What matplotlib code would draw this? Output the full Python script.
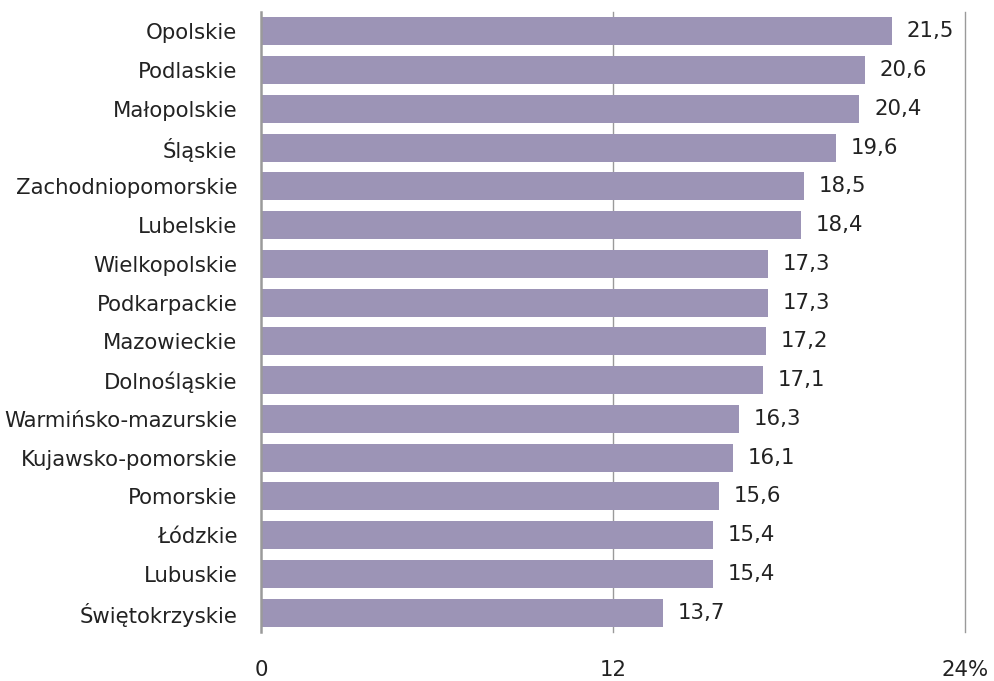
import matplotlib
matplotlib.use("Agg")
import matplotlib.pyplot as plt

regions = ["Opolskie", "Podlaskie", "Małopolskie", "Śląskie", "Zachodniopomorskie",
           "Lubelskie", "Wielkopolskie", "Podkarpackie", "Mazowieckie", "Dolnośląskie",
           "Warmińsko-mazurskie", "Kujawsko-pomorskie", "Pomorskie", "Łódzkie",
           "Lubuskie", "Świętokrzyskie"]
values = [21.5, 20.6, 20.4, 19.6, 18.5, 18.4, 17.3, 17.3, 17.2, 17.1,
          16.3, 16.1, 15.6, 15.4, 15.4, 13.7]
xticks = [0, 12, 24]
xticklabels = ["0", "12", "24%"]

plt.rcParams['font.family'] = ['DejaVu Sans']
FS = 15.3

fig = plt.figure(figsize=(9.94, 6.81), dpi=100)
ax = fig.add_axes([261/994, 1 - 632/681, (965 - 261)/994, (632 - 12)/681])

pos = list(range(len(regions)))
ax.barh(pos, values, height=0.72, color="#9c94b6", zorder=2)
for p, v in zip(pos, values):
    ax.text(v + 0.5, p, f"{v:.1f}".replace(".", ","), va="center", ha="left",
            fontsize=FS, color="#222222")

ax.set_xlim(0, 24)
ax.set_ylim(len(regions) - 0.5, -0.5)
ax.set_yticks(pos)
ax.set_yticklabels(regions, fontsize=FS, color="#222222")
ax.set_xticks(xticks)
ax.set_xticklabels(xticklabels, fontsize=FS, color="#222222")
ax.tick_params(axis="y", length=0, pad=17)
ax.tick_params(axis="x", length=0, pad=20)

for s in ["top", "right", "bottom"]:
    ax.spines[s].set_visible(False)
ax.spines["left"].set_color("#9a9a9a")
ax.spines["left"].set_linewidth(1.8)
for x in xticks[1:]:
    ax.axvline(x, color="#9a9a9a", linewidth=1.0, zorder=1, clip_on=False)

fig.savefig("out.png", dpi=100)
